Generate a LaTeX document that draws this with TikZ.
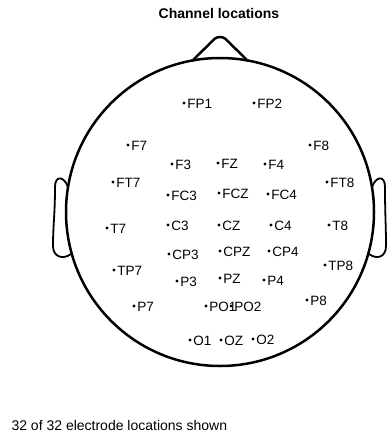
\documentclass[tikz,border=0pt]{standalone}
\usepackage{fontspec}
\setmainfont{Liberation Sans}
\usepackage{tikz}
\usetikzlibrary{calc,positioning}
\newcommand{\chfont}{\fontsize{13.5}{16}\selectfont}

\begin{document}
\begin{tikzpicture}[x=1pt,y=-1pt,
  head/.style={line width=2.5pt},
  ear/.style={line width=1.8pt,line join=round},
  elec/.style={circle,fill,inner sep=0pt,minimum size=3.3pt},
  chan/.style={font=\chfont,inner sep=0pt,text height=9.7pt,text depth=0pt,yshift=-0.7pt}]
  \useasboundingbox (0,0) rectangle (387,434);
  % title and count
  \node[font=\fontsize{14}{16}\selectfont\bfseries,anchor=base] (title) at (219,18.3) {Channel locations};
  \node[font=\fontsize{14}{16}\selectfont,anchor=base west] (count) at (8,430) {32 of 32 electrode locations shown};
  % head, nose, ears
  \draw[head] (220,212) circle[radius=154pt];
  \draw[head,line join=round] (192,61) -- (215,38.5) .. controls (218,36.5) and (222,36.5) .. (225,38.5) -- (248,61);
  \draw[ear] (68,187) .. controls (64,176) and (55,175) .. (55,187)
    .. controls (55,215) and (53,225) .. (53,246) .. controls (53,257) and (63,260) .. (71,254);
  \draw[ear] (372,187) .. controls (376,176) and (385,175) .. (385,187)
    .. controls (385,215) and (386,225) .. (386,246) .. controls (386,257) and (377,260) .. (369,254);
  % electrodes
  \foreach \lab/\x/\y in {FP1/184/103, FP2/254/103, F7/128/145, F8/310/145,
      F3/172/164, FZ/218/163, F4/265/164, FT7/113/182, FT8/327/182,
      FC3/168/195, FCZ/219/193, FC4/268/194, T7/107/228, C3/168/225,
      CZ/219/225, C4/271/225, T8/329/225, CP3/169/254, CPZ/220/251,
      CP4/269/251, TP7/114/270, TP8/325/265, P3/177/281, PZ/220/278,
      P4/264/280, P7/134/306, PO1/206/306, PO2/231/306, P8/307/300,
      O1/190/340, OZ/221/340, O2/253/339}{
    \node[elec] (e\lab) at (\x,\y) {};
    \node[chan,right=1.4pt of e\lab] (l\lab) {\lab};
  }
\end{tikzpicture}
\end{document}
